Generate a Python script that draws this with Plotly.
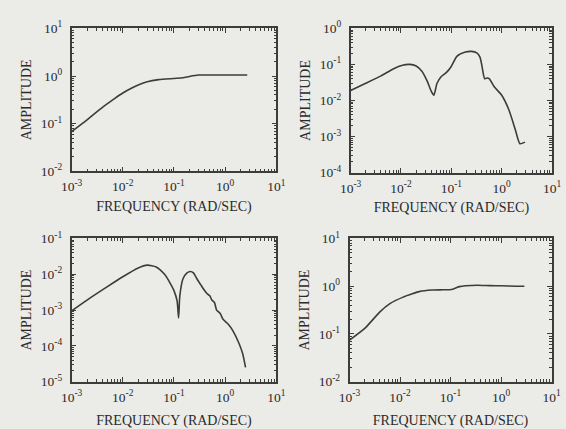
import plotly.graph_objects as go

# Panel 1 (top-left)
f1 = [0.001, 0.002, 0.004, 0.007, 0.01, 0.015, 0.02, 0.03, 0.05, 0.1, 0.15, 0.2, 0.3, 0.5, 1.0, 2.0, 2.7]
a1 = [0.068, 0.12, 0.22, 0.34, 0.44, 0.56, 0.65, 0.76, 0.84, 0.89, 0.92, 0.98, 1.05, 1.05, 1.05, 1.05, 1.05]

# Panel 2 (top-right)
f2 = [0.001, 0.002, 0.004, 0.007, 0.0107, 0.015, 0.02, 0.026, 0.033, 0.04, 0.045, 0.052, 0.062, 0.08, 0.098, 0.13, 0.19, 0.25, 0.32, 0.37, 0.40, 0.46, 0.52, 0.57, 0.71, 1.0, 1.38, 1.85, 2.3, 2.9]
a2 = [0.019, 0.03, 0.048, 0.075, 0.095, 0.1, 0.09, 0.065, 0.035, 0.018, 0.014, 0.03, 0.045, 0.06, 0.085, 0.17, 0.22, 0.23, 0.21, 0.16, 0.10, 0.04, 0.042, 0.04, 0.024, 0.014, 0.0056, 0.0016, 0.00063, 0.0007]

# Panel 3 (bottom-left)
f3 = [0.001, 0.002, 0.005, 0.01, 0.02, 0.03, 0.045, 0.066, 0.085, 0.1, 0.115, 0.123, 0.13, 0.15, 0.18, 0.21, 0.24, 0.28, 0.33, 0.38, 0.44, 0.5, 0.55, 0.62, 0.68, 0.8, 0.91, 1.15, 1.4, 1.85, 2.2, 2.5]
a3 = [0.00095, 0.0019, 0.0045, 0.0085, 0.015, 0.018, 0.016, 0.0098, 0.0055, 0.0035, 0.0018, 0.0006, 0.0025, 0.0075, 0.011, 0.012, 0.011, 0.0075, 0.0052, 0.0038, 0.0029, 0.0025, 0.0019, 0.0016, 0.001, 0.0008, 0.00055, 0.0004, 0.00027, 0.00012, 0.00006, 0.000025]

# Panel 4 (bottom-right)
f4 = [0.001, 0.002, 0.004, 0.0063, 0.0115, 0.018, 0.024, 0.043, 0.07, 0.104, 0.13, 0.15, 0.2, 0.34, 0.6, 1.0, 2.0, 2.9]
a4 = [0.074, 0.13, 0.29, 0.43, 0.59, 0.7, 0.77, 0.83, 0.84, 0.85, 0.93, 0.98, 1.02, 1.05, 1.03, 1.02, 1.0, 1.0]

x_range = [-3, 1]
y_ranges = [[-2, 1], [-4, 0], [-5, -1], [-2, 1]]
x_ticks = [-3, -2, -1, 0, 1]

x_title = "FREQUENCY (RAD/SEC)"
y_title = "AMPLITUDE"


def sup(e):
    return "10<sup>%s</sup>" % e


fig = go.Figure()
series = [(f1, a1), (f2, a2), (f3, a3), (f4, a4)]
line_col = "#3c3c3c"
txt_col = "#2a2a2a"
bg = "#ebebe8"
font_family = "Liberation Serif, Times New Roman, serif"

domains_x = [[0.111, 0.486], [0.622, 0.991], [0.111, 0.486], [0.620, 0.990]]
domains_y = [[0.606, 0.953], [0.603, 0.953], [0.0956, 0.443], [0.0956, 0.443]]
x_standoff = [8, 8, 14, 14]

for i, (f, a) in enumerate(series):
    n = "" if i == 0 else str(i + 1)
    fig.add_trace(go.Scatter(x=f, y=a, mode="lines",
                             line=dict(color=line_col, width=1.6, shape="spline", smoothing=0.6),
                             xaxis="x" + n, yaxis="y" + n, showlegend=False))
    yr = y_ranges[i]
    yt = list(range(yr[0], yr[1] + 1))
    common = dict(type="log", showgrid=False, zeroline=False, showline=True, linecolor=line_col, linewidth=1.5,
                  mirror="allticks", ticks="inside", ticklen=5, tickcolor=line_col, tickwidth=1,
                  tickfont=dict(family=font_family, size=13.5, color=txt_col),
                  minor=dict(ticks="inside", ticklen=3, tickcolor=line_col, tickwidth=1, dtick="D1"))
    fig.layout["xaxis" + n] = dict(common, domain=domains_x[i], anchor="y" + n, range=x_range,
                                   tickvals=[10 ** e for e in x_ticks], ticktext=[sup(e) for e in x_ticks],
                                   ticklabelstandoff=2,
                                   title=dict(text=x_title, font=dict(family=font_family, size=14, color=txt_col),
                                              standoff=x_standoff[i]))
    fig.layout["yaxis" + n] = dict(common, domain=domains_y[i], anchor="x" + n, range=yr,
                                   tickvals=[10 ** e for e in yt], ticktext=[sup(e) for e in yt],
                                   ticklabelstandoff=5,
                                   title=dict(text=y_title, font=dict(family=font_family, size=14, color=txt_col),
                                              standoff=6))

fig.update_layout(width=566, height=429, margin=dict(l=0, r=0, t=0, b=0),
                  paper_bgcolor=bg, plot_bgcolor=bg)

fig.write_html("out.html")
